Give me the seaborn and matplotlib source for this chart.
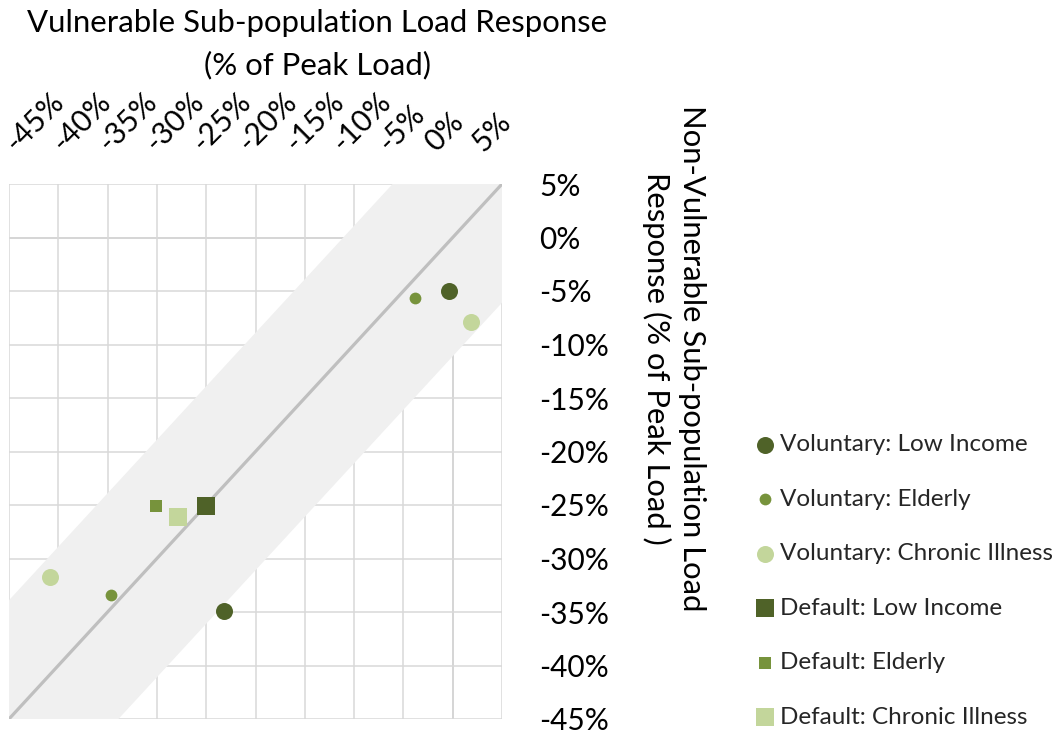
import numpy as np
import pandas as pd
import matplotlib
matplotlib.use("Agg")
import matplotlib.pyplot as plt
import matplotlib.transforms as mtransforms
import seaborn as sns

# ---------------- data (percent of peak load) ----------------
vol_low_income_x = [-0.4, -23.2]
vol_low_income_y = [-5.0, -34.9]
vol_elderly_x = [-3.8, -34.7]
vol_elderly_y = [-5.65, -33.4]
vol_chronic_x = [1.9, -40.8]
vol_chronic_y = [-7.9, -31.7]
def_low_income_x = [-25.0]
def_low_income_y = [-25.1]
def_elderly_x = [-30.1]
def_elderly_y = [-25.1]
def_chronic_x = [-27.9]
def_chronic_y = [-26.1]

series_names = ["Voluntary: Low Income", "Voluntary: Elderly", "Voluntary: Chronic Illness",
                "Default: Low Income", "Default: Elderly", "Default: Chronic Illness"]

parity_x = [-45, 5]
parity_y = [-45, 5]
band_halfwidth = 11.1

tick_values = [-45, -40, -35, -30, -25, -20, -15, -10, -5, 0, 5]
tick_labels = ["-45%", "-40%", "-35%", "-30%", "-25%", "-20%", "-15%", "-10%", "-5%", "0%", "5%"]

title_text = "Vulnerable Sub-population Load Response\n(% of Peak Load)"
ylabel_text = "Non-Vulnerable Sub-population Load\nResponse (% of Peak Load )"

# ---------------- styling ----------------
sns.set_theme(style="white")
plt.rcParams["font.family"] = ["Lato", "DejaVu Sans"]
plt.rcParams["axes.unicode_minus"] = False

dark = "#4F6228"
mid = "#77933C"
light = "#C3D69B"

specs = [
    (series_names[0], vol_low_income_x, vol_low_income_y, dark, "o", 150),
    (series_names[1], vol_elderly_x, vol_elderly_y, mid, "o", 72),
    (series_names[2], vol_chronic_x, vol_chronic_y, light, "o", 150),
    (series_names[3], def_low_income_x, def_low_income_y, dark, "s", 150),
    (series_names[4], def_elderly_x, def_elderly_y, mid, "s", 85),
    (series_names[5], def_chronic_x, def_chronic_y, light, "s", 150),
]

W, H = 1059, 734
fig = plt.figure(figsize=(W / 100, H / 100), dpi=100)
ax = fig.add_axes([9 / W, 1 - 719 / H, (502 - 9) / W, (719 - 184) / H])

# zero axis lines (slightly darker than the grid)
ax.axhline(0, color="#C6C6C6", lw=1.2, zorder=0.5)
ax.axvline(0, color="#C6C6C6", lw=1.2, zorder=0.5)

# band + parity line
bx = np.array(parity_x, dtype=float)
by = np.array(parity_y, dtype=float)
ax.fill_between(bx, by - band_halfwidth, by + band_halfwidth, color="#F0F0F0", lw=0, zorder=1)
sns.lineplot(x=parity_x, y=parity_y, ax=ax, color="#BFBFBF", lw=2.3, zorder=2)

for name, xs, ys, col, mk, s in specs:
    df = pd.DataFrame({"x": xs, "y": ys})
    sns.scatterplot(data=df, x="x", y="y", ax=ax, color=col, marker=mk, s=s,
                    linewidth=0, zorder=3, label=name, legend=False)

ax.set_xlim(-45, 5)
ax.set_ylim(-45, 5)
ax.set_xticks(tick_values)
ax.set_yticks(tick_values)
ax.set_xticklabels(tick_labels)
ax.set_yticklabels(tick_labels)
ax.set_xlabel("")
ax.set_ylabel("")

ax.grid(True, color="#D9D9D9", lw=1.1, zorder=0)
ax.set_axisbelow(True)
for sp in ax.spines.values():
    sp.set_visible(False)

ax.xaxis.tick_top()
ax.yaxis.tick_right()
ax.tick_params(axis="both", length=0, labelsize=21.5, colors="#000000")
ax.tick_params(axis="y", pad=27)
ax.tick_params(axis="x", pad=22)

for i, lab in enumerate(ax.get_xticklabels()):
    lab.set_rotation(45)
    lab.set_rotation_mode("anchor")
    lab.set_ha("left")
    lab.set_va("baseline")
    dx = (7 - 2.6 * i) / 100
    lab.set_transform(lab.get_transform() + mtransforms.ScaledTranslation(dx, 0, fig.dpi_scale_trans))

fig.text(317 / W, 1 - 9 / H, title_text, ha="center", va="top", fontsize=22.4,
         linespacing=1.6, color="#000000")
fig.text(674 / W, 1 - 358 / H, ylabel_text, ha="center", va="center", rotation=270,
         fontsize=22.3, linespacing=1.3, multialignment="center", color="#000000")

h, l = ax.get_legend_handles_labels()
fig.legend(h, l, loc="upper left", bbox_to_anchor=(752 / W, 1 - 434 / H), frameon=False,
           fontsize=17.5, labelspacing=1.38, handletextpad=0.05, handlelength=1.1,
           borderaxespad=0, borderpad=0)

fig.savefig("out.png", dpi=100)
